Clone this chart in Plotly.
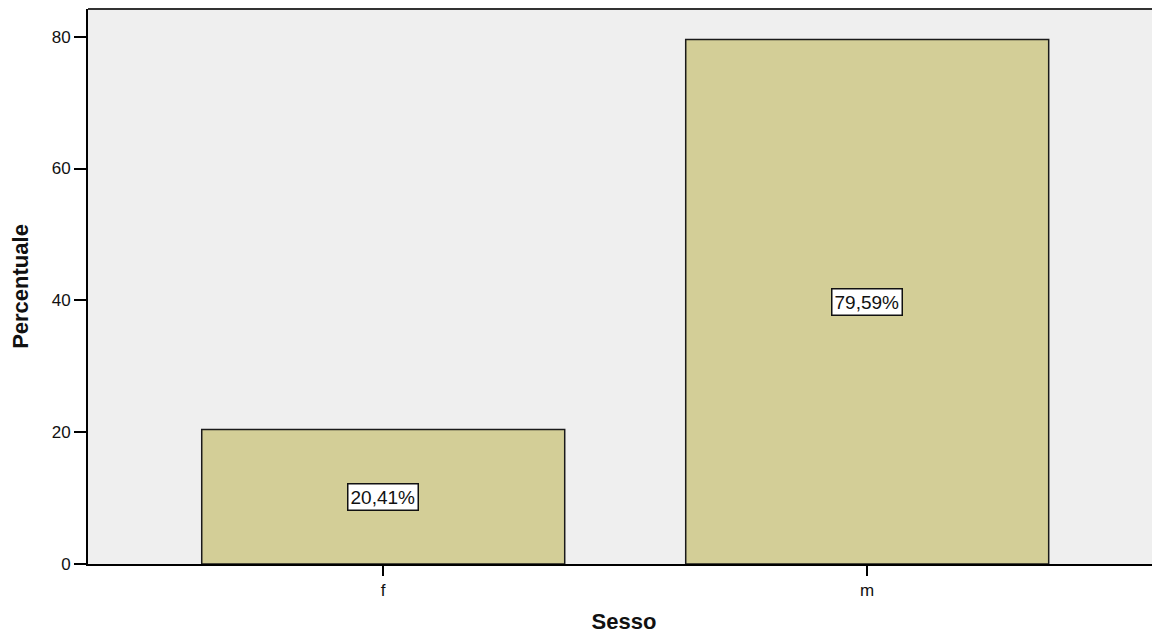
import plotly.graph_objects as go

categories = ["f", "m"]
percent_values = [20.41, 79.59]
value_labels = ["20,41%", "79,59%"]
y_ticks = [0, 20, 40, 60, 80]

bar_color = "#D3CE97"
font_family = "Arial, Liberation Sans, sans-serif"

fig = go.Figure()
fig.add_trace(go.Bar(
    x=categories,
    y=percent_values,
    width=0.75,
    marker=dict(color=bar_color, line=dict(color="#1a1a1a", width=1.5)),
    hoverinfo="skip",
))

for c, v, lab in zip(categories, percent_values, value_labels):
    fig.add_annotation(
        x=c, y=v / 2, text=lab, showarrow=False,
        font=dict(family=font_family, size=19, color="#111"),
        bgcolor="white", bordercolor="#111", borderwidth=1.5, borderpad=2,
    )

fig.add_shape(type="line", xref="paper", yref="paper", x0=0, x1=1, y0=1, y1=1,
              line=dict(color="#333", width=2))

fig.update_layout(
    width=1152, height=634,
    margin=dict(l=80, r=0, t=1, b=78),
    paper_bgcolor="white",
    plot_bgcolor="#EFEFEF",
    showlegend=False,
    font=dict(family=font_family, size=17, color="#111"),
    xaxis=dict(
        type="category", range=[-0.61, 1.605],
        showline=True, linecolor="#000", linewidth=2,
        ticks="outside", ticklen=10, tickwidth=2, tickcolor="#000",
        showgrid=False, zeroline=False,
        tickfont=dict(size=17, family=font_family),
        title=dict(text="<b>Sesso</b>", font=dict(size=22, family=font_family), standoff=14),
    ),
    yaxis=dict(
        range=[0, 84.2],
        tickvals=y_ticks,
        showline=True, linecolor="#000", linewidth=2,
        ticks="outside", ticklen=12, tickwidth=2, tickcolor="#000",
        showgrid=False, zeroline=False,
        tickfont=dict(size=17, family=font_family),
        title=dict(text="<b>Percentuale</b>", font=dict(size=22, family=font_family), standoff=18),
    ),
)

fig.write_html("out.html")
